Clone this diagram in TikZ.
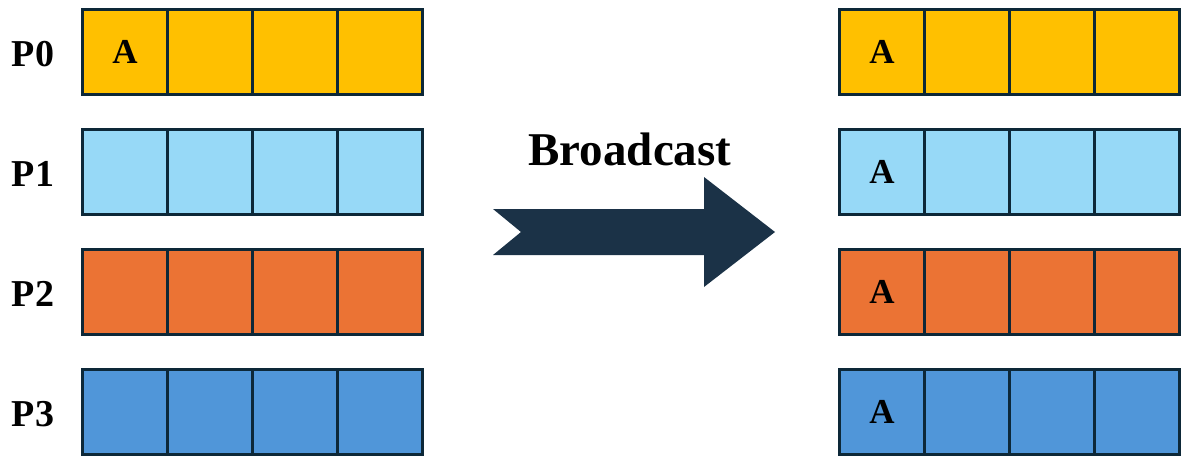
\documentclass[tikz,border=0pt]{standalone}
\usepackage{fontspec}
\setmainfont{Liberation Serif}
\usepackage{tikz}
\definecolor{boxline}{HTML}{0D2838}
\definecolor{gold}{HTML}{FFC000}
\definecolor{skyblue}{HTML}{97D9F7}
\definecolor{tangerine}{HTML}{EB7334}
\definecolor{steel}{HTML}{5096D9}
\definecolor{arrowblue}{HTML}{1B3247}

\begin{document}
\begin{tikzpicture}
	[x=1pt,y=-1pt,
	cell/.style={shape=rectangle,draw=boxline,line width=3pt,
		minimum width=85pt,minimum height=85pt,inner sep=0pt,
		font=\fontsize{35}{35}\selectfont\bfseries},
	plabel/.style={anchor=base,inner sep=0pt,
		font=\fontsize{38}{38}\selectfont\bfseries}]
	\useasboundingbox (0,0) rectangle (1198,469);
	
	\foreach \row/\fillcol in {0/gold,1/skyblue,2/tangerine,3/steel}
	{
		\node[plabel] (p\row) at (33,{66+120*\row}) {P\row};
		\foreach \col in {0,...,3}
		{
			\node[cell,fill=\fillcol] (src\row-\col) at ({125+85*\col},{52+120*\row})
			{\ifnum\row\col=00 A\fi};
			\node[cell,fill=\fillcol] (dst\row-\col) at ({882+85*\col},{52+120*\row})
			{\ifnum\col=0 A\fi};
		}
	};
	
	\node[anchor=base,inner sep=0pt,font=\fontsize{47}{47}\selectfont\bfseries]
	(bcast) at (630,165) {Broadcast};
	\fill[arrowblue] (493,209) -- (704,209) -- (704,177) -- (775,232)
	-- (704,287) -- (704,255) -- (493,255) -- (521,232) -- cycle;
\end{tikzpicture}
\end{document}
